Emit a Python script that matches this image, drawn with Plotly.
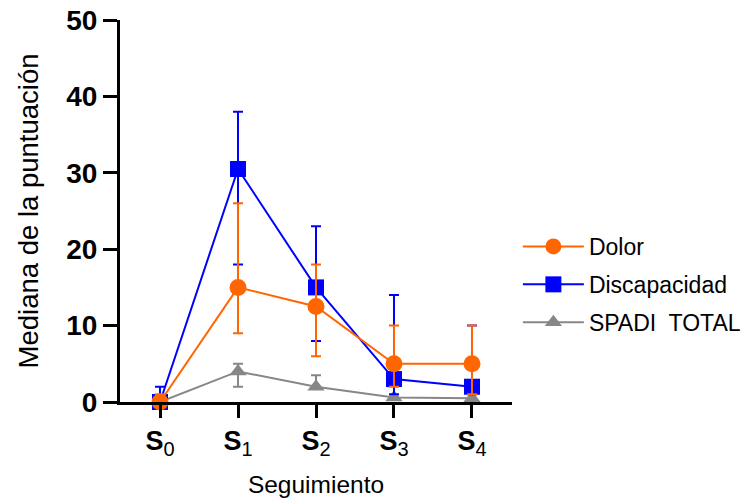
import plotly.graph_objects as go

# Follow-up visits and median scores with their lower/upper bounds
x_pos = [0, 1, 2, 3, 4]
visit_digits = ["0", "1", "2", "3", "4"]
visit_labels = [
    "<b>S</b><sub><span style='font-size:20px'>%s</span></sub>" % d for d in visit_digits
]

dolor = [0, 15, 12.5, 5, 5]
dolor_hi = [1, 26, 18, 10, 10]
dolor_lo = [0, 9, 6, 2, 1]

discapacidad = [0, 30.5, 15, 3, 2]
discapacidad_hi = [2, 38, 23, 14, 10]
discapacidad_lo = [0, 18, 8, 1, 1]

spadi = [0, 4, 2, 0.6, 0.5]
spadi_hi = [0, 5, 3.5, 0.6, 0.5]
spadi_lo = [0, 2, 2, 0.6, 0.5]

y_ticks = [0, 10, 20, 30, 40, 50]

# (name, values, upper, lower, colour, symbol, size, legend position)
series = [
    ("SPADI  TOTAL", spadi, spadi_hi, spadi_lo, "#878787", "triangle-up", 15, 3),
    ("Discapacidad", discapacidad, discapacidad_hi, discapacidad_lo, "#0000ff", "square", 16, 2),
    ("Dolor", dolor, dolor_hi, dolor_lo, "#ff6600", "circle", 17, 1),
]

fig = go.Figure()
for name, vals, hi, lo, color, symbol, size, rank in series:
    fig.add_trace(go.Scatter(
        x=x_pos, y=vals, name=name, mode="lines+markers",
        legendgroup=name, legendrank=rank,
        line=dict(color=color, width=2),
        marker=dict(symbol=symbol, size=size, color=color),
        error_y=dict(type="data", symmetric=False,
                     array=[h - v for h, v in zip(hi, vals)],
                     arrayminus=[v - l for v, l in zip(vals, lo)],
                     color=color, thickness=2, width=5),
        cliponaxis=False,
    ))

fig.update_layout(
    width=745, height=501,
    margin=dict(l=120, r=233, t=20, b=99, autoexpand=False),
    plot_bgcolor="white", paper_bgcolor="white",
    font=dict(family="Liberation Sans, Arial, sans-serif", color="black"),
    showlegend=True,
    legend=dict(x=1.015, y=0.3076, xanchor="left", yanchor="middle",
                traceorder="grouped", font=dict(size=23),
                itemwidth=61, tracegroupgap=5, bgcolor="rgba(0,0,0,0)"),
    xaxis=dict(
        range=[-0.513, 4.513], tickvals=x_pos, ticktext=visit_labels,
        showgrid=False, zeroline=False, showline=True, automargin=False,
        linecolor="black", linewidth=3,
        ticks="outside", ticklen=13, tickwidth=3, tickcolor="black",
        tickfont=dict(size=27, color="black"),
        title=dict(text="Seguimiento", font=dict(size=24.5), standoff=17),
    ),
    yaxis=dict(
        range=[0, 50], tickvals=y_ticks,
        ticktext=["<b>%d</b>" % v for v in y_ticks],
        showgrid=False, zeroline=False, showline=True, automargin=False,
        linecolor="black", linewidth=3,
        ticks="outside", ticklen=14, tickwidth=3, tickcolor="black",
        tickfont=dict(size=28, color="black"),
        title=dict(text="Mediana de la puntuación", font=dict(size=27.5), standoff=20),
    ),
)

fig.write_html("out.html")
